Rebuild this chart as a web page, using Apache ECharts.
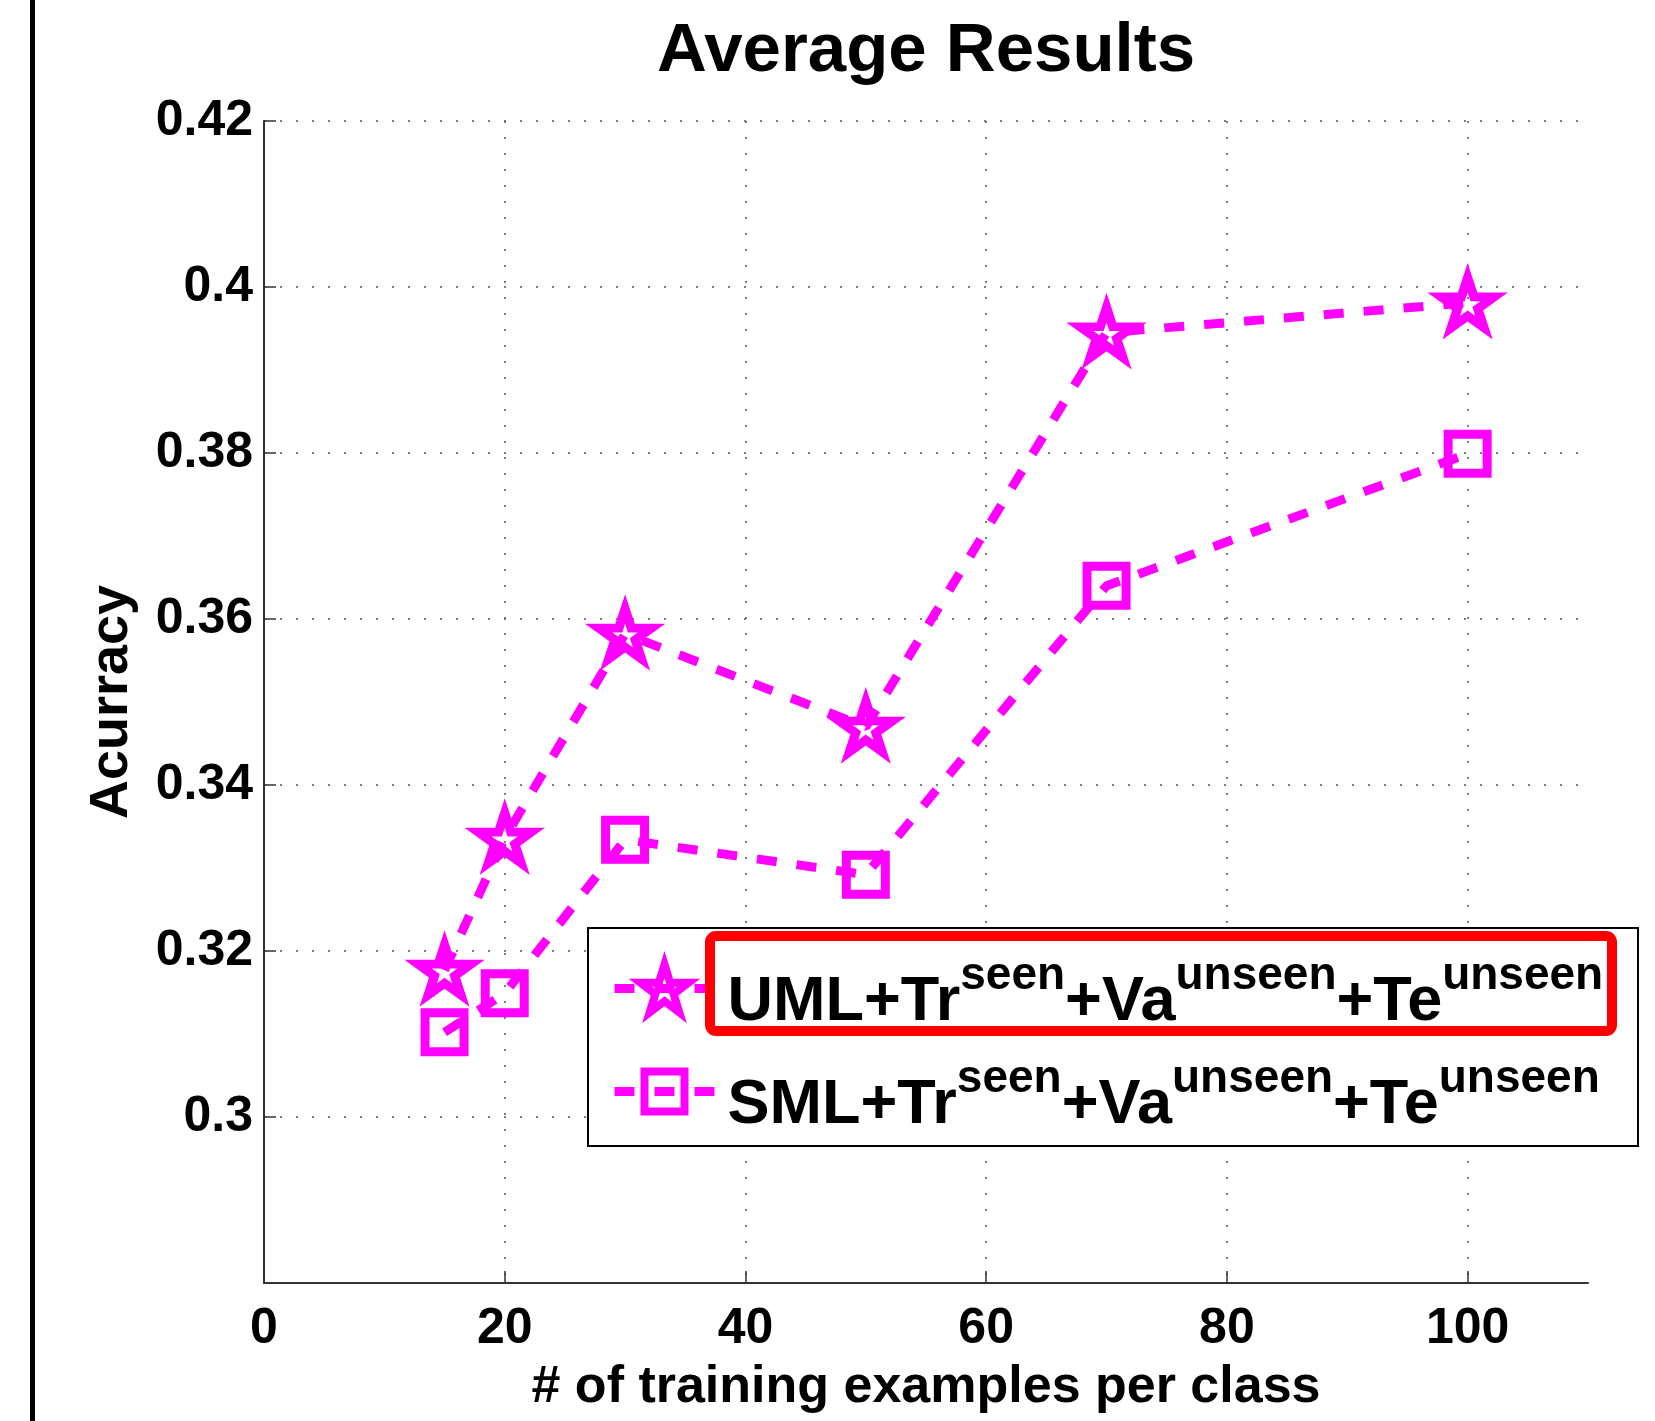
<!DOCTYPE html>
<html><head><meta charset="utf-8">
<script src="https://cdn.jsdelivr.net/npm/echarts@6/dist/echarts.min.js"></script>
<style>html,body{margin:0;padding:0;background:#fff}#c{width:1655px;height:1421px}</style>
</head><body><div id="c"></div>
<script>
// ---- data ----
const xValues = [15, 20, 30, 50, 70, 100];
const umlAcc = [0.3177, 0.3336, 0.3582, 0.3470, 0.3945, 0.3981];
const smlAcc = [0.3102, 0.3149, 0.3334, 0.3292, 0.3640, 0.3799];
const seriesNames = ['UML', 'SML'];
const legendParts = {
  UML: [['m', 'UML+Tr'], ['s', 'seen'], ['m', '+Va'], ['s', 'unseen'], ['m', '+Te'], ['s', 'unseen']],
  SML: [['m', 'SML+Tr'], ['s', 'seen'], ['m', '+Va'], ['s', 'unseen'], ['m', '+Te'], ['s', 'unseen']]
};
const titleText = 'Average Results';
const xName = '# of training examples per class';
const yName = 'Acurracy';
const xRange = [0, 110, 20];
const yRange = [0.28, 0.42, 0.02];

const FONT = '"Liberation Sans", Arial, Helvetica, sans-serif';
const MAGENTA = '#ff00ff';
const STAR = 'path://M0,-100L22.45,-30.9L95.1,-30.9L36.33,11.8L58.78,80.9L0,38.2L-58.78,80.9L-36.33,11.8L-95.1,-30.9L-22.45,-30.9Z';

function pairs(ys) { return xValues.map((x, i) => [x, ys[i]]); }

const legendText = {
  fontFamily: FONT, fontWeight: 'bold', color: '#000', padding: [29, 0, 0, 8],
  rich: {
    m: {fontFamily: FONT, fontWeight: 'bold', fontSize: 63, lineHeight: 78, color: '#000'},
    s: {fontFamily: FONT, fontWeight: 'bold', fontSize: 46, lineHeight: 24, height: 24, verticalAlign: 'top', color: '#000'}
  }
};
function legendOf(name, top, itemHeight) {
  return {
    orient: 'vertical', left: 610, top: top, padding: 0,
    itemWidth: 100, itemHeight: itemHeight, selectedMode: false, z: 20,
    data: [name],
    lineStyle: {width: 9, type: [20, 20], color: MAGENTA},
    itemStyle: {borderWidth: 8, borderColor: MAGENTA, color: 'transparent', borderJoin: 'miter', borderMiterLimit: 10},
    formatter: n => legendParts[n].map(p => '{' + p[0] + '|' + p[1] + '}').join(''),
    textStyle: legendText
  };
}

const chart = echarts.init(document.getElementById('c'), null, {renderer: 'canvas'});
const dotted = {color: '#555', width: 1.5, type: [2, 14]};

chart.setOption({
  animation: false,
  backgroundColor: '#fff',
  title: {
    text: titleText, left: 926, top: 17, padding: 0, textAlign: 'center',
    textStyle: {fontFamily: FONT, fontWeight: 'bold', fontSize: 69, color: '#000'}
  },
  grid: {left: 264, top: 121, right: 67, bottom: 138, containLabel: false},
  xAxis: {
    type: 'value', min: xRange[0], max: xRange[1], interval: xRange[2],
    name: xName, nameLocation: 'middle', nameGap: 79,
    nameTextStyle: {fontFamily: FONT, fontWeight: 'bold', fontSize: 52, color: '#000'},
    axisLine: {show: true, onZero: false, lineStyle: {color: '#333', width: 2}},
    axisTick: {show: true, inside: true, length: 12, lineStyle: {color: '#333', width: 1.5}},
    axisLabel: {margin: 21, showMaxLabel: false, fontFamily: FONT, fontWeight: 'bold', fontSize: 50, color: '#000'},
    splitLine: {show: true, showMinLine: false, showMaxLine: false, lineStyle: dotted}
  },
  yAxis: {
    type: 'value', min: yRange[0], max: yRange[1], interval: yRange[2],
    name: yName, nameLocation: 'middle', nameGap: 125, nameRotate: 90,
    nameTextStyle: {fontFamily: FONT, fontWeight: 'bold', fontSize: 54, color: '#000'},
    axisLine: {show: true, onZero: false, lineStyle: {color: '#333', width: 2}},
    axisTick: {show: true, inside: true, length: 12, lineStyle: {color: '#333', width: 1.5}},
    axisLabel: {margin: 11, showMinLabel: false, fontFamily: FONT, fontWeight: 'bold', fontSize: 50, color: '#000',
      formatter: v => String(Math.round(v * 100) / 100)},
    splitLine: {show: true, showMinLine: false, showMaxLine: true, lineStyle: dotted}
  },
  legend: [legendOf(seriesNames[0], 953, 60), legendOf(seriesNames[1], 1056, 50)],
  series: [
    {
      name: seriesNames[0], type: 'line', data: pairs(umlAcc),
      symbol: STAR, symbolSize: [53, 50], z: 3,
      lineStyle: {color: MAGENTA, width: 9, type: [20, 20]},
      itemStyle: {color: 'transparent', borderColor: MAGENTA, borderWidth: 9, borderJoin: 'miter', borderMiterLimit: 10}
    },
    {
      name: seriesNames[1], type: 'line', data: pairs(smlAcc),
      symbol: 'rect', symbolSize: 39, z: 3,
      lineStyle: {color: MAGENTA, width: 9, type: [20, 20]},
      itemStyle: {color: 'transparent', borderColor: MAGENTA, borderWidth: 9, borderJoin: 'miter'}
    }
  ],
  graphic: [
    {type: 'rect', z: 50, shape: {x: 30, y: 0, width: 5, height: 1421}, style: {fill: '#000'}},
    {type: 'rect', z: 10, shape: {x: 588, y: 928, width: 1050, height: 218}, style: {fill: '#fff', stroke: '#000', lineWidth: 2}},
    {type: 'rect', z: 100, shape: {x: 710, y: 936, width: 902, height: 95, r: 6}, style: {fill: null, stroke: '#ff0000', lineWidth: 10}}
  ]
});
</script></body></html>
